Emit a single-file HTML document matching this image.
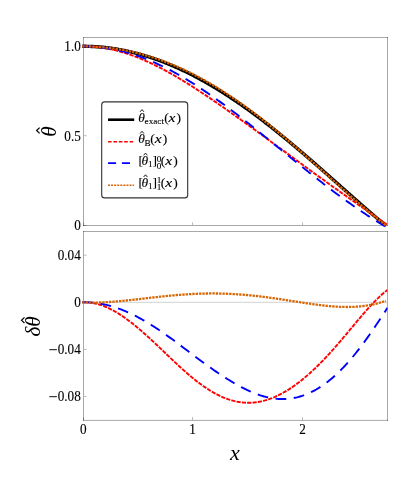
<!DOCTYPE html>
<html><head><meta charset="utf-8">
<style>
html,body{margin:0;padding:0;background:#fff;}
body{width:407px;height:499px;overflow:hidden;}
svg{display:block;}
text{font-family:"Liberation Serif",serif;fill:#000;}
.tk{font-size:13.2px;stroke:#000;stroke-width:0.12px;}
.it{font-style:italic;}
.lg{font-size:13.5px;stroke:#000;stroke-width:0.12px;}
.sub{font-size:9.2px;stroke-width:0.12px;}
.hat{font-size:10px;}
</style></head><body>
<div style="will-change:transform;width:407px;height:499px"><svg width="407" height="499" viewBox="0 0 407 499">
<rect width="407" height="499" fill="#fff"/>
<defs>
<clipPath id="ct"><rect x="80" y="38" width="307.6" height="189"/></clipPath>
<clipPath id="cb"><rect x="80" y="232" width="307.6" height="188.5"/></clipPath>
</defs>
<!-- zero axis bottom panel -->
<line x1="84" y1="302.3" x2="387" y2="302.3" stroke="#d2d2d2" stroke-width="1"/>
<!-- frames -->
<g fill="none" stroke="#000" stroke-opacity="0.34" stroke-width="1">
<line x1="83" y1="37.5" x2="388" y2="37.5"/><line x1="83" y1="225.5" x2="388" y2="225.5"/>
<line x1="83.5" y1="37" x2="83.5" y2="226"/><line x1="387.5" y1="37" x2="387.5" y2="226"/>
<line x1="83" y1="231.5" x2="388" y2="231.5"/><line x1="83" y1="420.4" x2="388" y2="420.4"/>
<line x1="83.5" y1="231" x2="83.5" y2="421"/><line x1="387.5" y1="231" x2="387.5" y2="421"/>
</g>
<!-- ticks -->
<g stroke="#000" stroke-opacity="0.27" stroke-width="1">
<line x1="84" y1="135.7" x2="86.6" y2="135.7"/>
<line x1="84" y1="46.3" x2="86.6" y2="46.3"/>
<line x1="83" y1="225.5" x2="86.6" y2="225.5"/>
<line x1="83.5" y1="225" x2="83.5" y2="222.4"/>
<line x1="192.5" y1="225" x2="192.5" y2="222.4"/>
<line x1="302.5" y1="225" x2="302.5" y2="222.4"/>
<line x1="84" y1="255.2" x2="86.6" y2="255.2"/>
<line x1="84" y1="302.3" x2="86.6" y2="302.3"/>
<line x1="84" y1="349.4" x2="86.6" y2="349.4"/>
<line x1="84" y1="396.4" x2="86.6" y2="396.4"/>
<line x1="83.5" y1="420" x2="83.5" y2="417.2"/>
<line x1="192.5" y1="420" x2="192.5" y2="417.2"/>
<line x1="302.5" y1="420" x2="302.5" y2="417.2"/>
</g>
<!-- curves top -->
<g fill="none" clip-path="url(#ct)">
<path d="M82.20 46.30 L83.00 46.30 L84.01 46.30 L85.03 46.31 L86.04 46.32 L87.05 46.34 L88.06 46.36 L89.08 46.39 L90.09 46.42 L91.10 46.46 L92.11 46.51 L93.13 46.55 L94.14 46.61 L95.15 46.66 L96.17 46.73 L97.18 46.80 L98.19 46.87 L99.20 46.95 L100.22 47.03 L101.23 47.12 L102.24 47.21 L103.25 47.31 L104.27 47.42 L105.28 47.52 L106.29 47.64 L107.31 47.76 L108.32 47.88 L109.33 48.01 L110.34 48.14 L111.36 48.28 L112.37 48.43 L113.38 48.57 L114.39 48.73 L115.41 48.89 L116.42 49.05 L117.43 49.22 L118.45 49.39 L119.46 49.57 L120.47 49.76 L121.48 49.94 L122.50 50.14 L123.51 50.34 L124.52 50.54 L125.53 50.75 L126.55 50.96 L127.56 51.18 L128.57 51.40 L129.59 51.63 L130.60 51.87 L131.61 52.10 L132.62 52.35 L133.64 52.60 L134.65 52.85 L135.66 53.11 L136.67 53.37 L137.69 53.64 L138.70 53.91 L139.71 54.19 L140.73 54.47 L141.74 54.76 L142.75 55.05 L143.76 55.34 L144.78 55.65 L145.79 55.95 L146.80 56.26 L147.82 56.58 L148.83 56.90 L149.84 57.23 L150.85 57.56 L151.87 57.89 L152.88 58.23 L153.89 58.58 L154.90 58.92 L155.92 59.28 L156.93 59.64 L157.94 60.00 L158.96 60.37 L159.97 60.74 L160.98 61.12 L161.99 61.50 L163.01 61.89 L164.02 62.28 L165.03 62.68 L166.04 63.08 L167.06 63.48 L168.07 63.89 L169.08 64.31 L170.10 64.73 L171.11 65.15 L172.12 65.58 L173.13 66.01 L174.15 66.45 L175.16 66.89 L176.17 67.34 L177.18 67.79 L178.20 68.25 L179.21 68.71 L180.22 69.17 L181.24 69.64 L182.25 70.12 L183.26 70.59 L184.27 71.08 L185.29 71.56 L186.30 72.05 L187.31 72.55 L188.32 73.05 L189.34 73.55 L190.35 74.06 L191.36 74.58 L192.38 75.09 L193.39 75.61 L194.40 76.14 L195.41 76.67 L196.43 77.20 L197.44 77.74 L198.45 78.29 L199.46 78.83 L200.48 79.38 L201.49 79.94 L202.50 80.50 L203.52 81.06 L204.53 81.63 L205.54 82.20 L206.55 82.78 L207.57 83.36 L208.58 83.94 L209.59 84.53 L210.60 85.12 L211.62 85.72 L212.63 86.32 L213.64 86.92 L214.66 87.53 L215.67 88.15 L216.68 88.76 L217.69 89.38 L218.71 90.01 L219.72 90.63 L220.73 91.26 L221.74 91.90 L222.76 92.54 L223.77 93.18 L224.78 93.83 L225.80 94.48 L226.81 95.13 L227.82 95.79 L228.83 96.45 L229.85 97.12 L230.86 97.79 L231.87 98.46 L232.88 99.14 L233.90 99.82 L234.91 100.50 L235.92 101.19 L236.94 101.88 L237.95 102.57 L238.96 103.27 L239.97 103.97 L240.99 104.67 L242.00 105.38 L243.01 106.09 L244.02 106.81 L245.04 107.53 L246.05 108.25 L247.06 108.97 L248.08 109.70 L249.09 110.43 L250.10 111.17 L251.11 111.90 L252.13 112.64 L253.14 113.39 L254.15 114.13 L255.17 114.88 L256.18 115.64 L257.19 116.39 L258.20 117.15 L259.22 117.92 L260.23 118.68 L261.24 119.45 L262.25 120.22 L263.27 121.00 L264.28 121.77 L265.29 122.55 L266.31 123.34 L267.32 124.12 L268.33 124.91 L269.34 125.70 L270.36 126.49 L271.37 127.29 L272.38 128.09 L273.39 128.89 L274.41 129.70 L275.42 130.50 L276.43 131.31 L277.45 132.12 L278.46 132.94 L279.47 133.76 L280.48 134.58 L281.50 135.40 L282.51 136.22 L283.52 137.05 L284.53 137.88 L285.55 138.71 L286.56 139.54 L287.57 140.38 L288.59 141.22 L289.60 142.06 L290.61 142.90 L291.62 143.74 L292.64 144.59 L293.65 145.44 L294.66 146.29 L295.67 147.14 L296.69 147.99 L297.70 148.85 L298.71 149.71 L299.73 150.57 L300.74 151.43 L301.75 152.29 L302.76 153.16 L303.78 154.02 L304.79 154.89 L305.80 155.76 L306.81 156.63 L307.83 157.50 L308.84 158.38 L309.85 159.25 L310.87 160.13 L311.88 161.01 L312.89 161.89 L313.90 162.77 L314.92 163.65 L315.93 164.54 L316.94 165.42 L317.95 166.31 L318.97 167.20 L319.98 168.08 L320.99 168.97 L322.01 169.86 L323.02 170.75 L324.03 171.65 L325.04 172.54 L326.06 173.43 L327.07 174.33 L328.08 175.22 L329.09 176.12 L330.11 177.01 L331.12 177.91 L332.13 178.81 L333.15 179.70 L334.16 180.60 L335.17 181.50 L336.18 182.40 L337.20 183.30 L338.21 184.20 L339.22 185.10 L340.23 186.00 L341.25 186.90 L342.26 187.80 L343.27 188.70 L344.29 189.59 L345.30 190.49 L346.31 191.39 L347.32 192.29 L348.34 193.19 L349.35 194.09 L350.36 194.99 L351.37 195.88 L352.39 196.78 L353.40 197.67 L354.41 198.57 L355.43 199.46 L356.44 200.36 L357.45 201.25 L358.46 202.14 L359.48 203.03 L360.49 203.92 L361.50 204.81 L362.52 205.69 L363.53 206.58 L364.54 207.46 L365.55 208.35 L366.57 209.23 L367.58 210.11 L368.59 210.98 L369.60 211.86 L370.62 212.73 L371.63 213.60 L372.64 214.47 L373.66 215.34 L374.67 216.20 L375.68 217.06 L376.69 217.92 L377.71 218.78 L378.72 219.63 L379.73 220.48 L380.74 221.33 L381.76 222.17 L382.77 223.01 L383.78 223.85 L384.80 224.68 L385.81 225.51" stroke="#000" stroke-width="3.4"/>
<path d="M82.20 46.30 L83.00 46.30 L84.02 46.30 L85.04 46.31 L86.06 46.32 L87.07 46.35 L88.09 46.38 L89.11 46.42 L90.13 46.47 L91.15 46.53 L92.17 46.60 L93.18 46.67 L94.20 46.76 L95.22 46.85 L96.24 46.95 L97.26 47.06 L98.28 47.17 L99.29 47.30 L100.31 47.43 L101.33 47.57 L102.35 47.72 L103.37 47.88 L104.39 48.04 L105.40 48.22 L106.42 48.40 L107.44 48.59 L108.46 48.78 L109.48 48.99 L110.50 49.20 L111.52 49.42 L112.53 49.64 L113.55 49.88 L114.57 50.12 L115.59 50.37 L116.61 50.63 L117.63 50.89 L118.64 51.16 L119.66 51.44 L120.68 51.73 L121.70 52.02 L122.72 52.32 L123.74 52.63 L124.75 52.94 L125.77 53.26 L126.79 53.59 L127.81 53.92 L128.83 54.27 L129.85 54.61 L130.86 54.97 L131.88 55.33 L132.90 55.70 L133.92 56.07 L134.94 56.46 L135.96 56.84 L136.97 57.24 L137.99 57.64 L139.01 58.04 L140.03 58.46 L141.05 58.88 L142.07 59.30 L143.09 59.73 L144.10 60.17 L145.12 60.61 L146.14 61.06 L147.16 61.52 L148.18 61.98 L149.20 62.44 L150.21 62.91 L151.23 63.39 L152.25 63.87 L153.27 64.36 L154.29 64.86 L155.31 65.35 L156.32 65.86 L157.34 66.37 L158.36 66.88 L159.38 67.40 L160.40 67.93 L161.42 68.46 L162.43 68.99 L163.45 69.53 L164.47 70.07 L165.49 70.62 L166.51 71.18 L167.53 71.73 L168.55 72.30 L169.56 72.86 L170.58 73.43 L171.60 74.01 L172.62 74.59 L173.64 75.17 L174.66 75.76 L175.67 76.35 L176.69 76.95 L177.71 77.55 L178.73 78.15 L179.75 78.76 L180.77 79.37 L181.78 79.99 L182.80 80.61 L183.82 81.23 L184.84 81.85 L185.86 82.48 L186.88 83.11 L187.89 83.75 L188.91 84.39 L189.93 85.03 L190.95 85.67 L191.97 86.32 L192.99 86.97 L194.01 87.62 L195.02 88.28 L196.04 88.94 L197.06 89.60 L198.08 90.26 L199.10 90.93 L200.12 91.60 L201.13 92.27 L202.15 92.94 L203.17 93.62 L204.19 94.30 L205.21 94.98 L206.23 95.66 L207.24 96.35 L208.26 97.03 L209.28 97.72 L210.30 98.41 L211.32 99.10 L212.34 99.80 L213.35 100.49 L214.37 101.19 L215.39 101.89 L216.41 102.59 L217.43 103.30 L218.45 104.00 L219.46 104.71 L220.48 105.41 L221.50 106.12 L222.52 106.83 L223.54 107.54 L224.56 108.26 L225.58 108.97 L226.59 109.69 L227.61 110.40 L228.63 111.12 L229.65 111.84 L230.67 112.56 L231.69 113.28 L232.70 114.00 L233.72 114.73 L234.74 115.45 L235.76 116.18 L236.78 116.90 L237.80 117.63 L238.81 118.36 L239.83 119.08 L240.85 119.81 L241.87 120.54 L242.89 121.27 L243.91 122.01 L244.92 122.74 L245.94 123.47 L246.96 124.20 L247.98 124.94 L249.00 125.67 L250.02 126.41 L251.04 127.14 L252.05 127.88 L253.07 128.62 L254.09 129.35 L255.11 130.09 L256.13 130.83 L257.15 131.57 L258.16 132.31 L259.18 133.05 L260.20 133.79 L261.22 134.53 L262.24 135.27 L263.26 136.01 L264.27 136.75 L265.29 137.49 L266.31 138.23 L267.33 138.97 L268.35 139.72 L269.37 140.46 L270.38 141.20 L271.40 141.95 L272.42 142.69 L273.44 143.43 L274.46 144.18 L275.48 144.92 L276.49 145.67 L277.51 146.41 L278.53 147.15 L279.55 147.90 L280.57 148.64 L281.59 149.39 L282.61 150.13 L283.62 150.88 L284.64 151.62 L285.66 152.37 L286.68 153.11 L287.70 153.86 L288.72 154.61 L289.73 155.35 L290.75 156.10 L291.77 156.84 L292.79 157.59 L293.81 158.33 L294.83 159.08 L295.84 159.82 L296.86 160.57 L297.88 161.31 L298.90 162.06 L299.92 162.80 L300.94 163.54 L301.95 164.29 L302.97 165.03 L303.99 165.78 L305.01 166.52 L306.03 167.26 L307.05 168.00 L308.07 168.75 L309.08 169.49 L310.10 170.23 L311.12 170.97 L312.14 171.71 L313.16 172.45 L314.18 173.19 L315.19 173.93 L316.21 174.67 L317.23 175.41 L318.25 176.15 L319.27 176.89 L320.29 177.63 L321.30 178.36 L322.32 179.10 L323.34 179.84 L324.36 180.57 L325.38 181.31 L326.40 182.04 L327.41 182.77 L328.43 183.50 L329.45 184.24 L330.47 184.97 L331.49 185.70 L332.51 186.43 L333.53 187.16 L334.54 187.88 L335.56 188.61 L336.58 189.34 L337.60 190.06 L338.62 190.79 L339.64 191.51 L340.65 192.24 L341.67 192.96 L342.69 193.68 L343.71 194.40 L344.73 195.12 L345.75 195.84 L346.76 196.56 L347.78 197.28 L348.80 198.00 L349.82 198.72 L350.84 199.43 L351.86 200.15 L352.87 200.86 L353.89 201.58 L354.91 202.29 L355.93 203.01 L356.95 203.72 L357.97 204.43 L358.98 205.14 L360.00 205.86 L361.02 206.57 L362.04 207.28 L363.06 207.99 L364.08 208.70 L365.10 209.41 L366.11 210.12 L367.13 210.83 L368.15 211.54 L369.17 212.25 L370.19 212.96 L371.21 213.66 L372.22 214.37 L373.24 215.08 L374.26 215.79 L375.28 216.50 L376.30 217.21 L377.32 217.92 L378.33 218.63 L379.35 219.34 L380.37 220.04 L381.39 220.75 L382.41 221.46 L383.43 222.17 L384.44 222.88 L385.46 223.59 L386.48 224.29 L387.50 225.00" stroke="#ff0000" stroke-width="1.9" stroke-dasharray="4.2 1.15"/>
<path d="M82.20 46.30 L83.00 46.30 L84.02 46.30 L85.04 46.31 L86.06 46.32 L87.07 46.35 L88.09 46.37 L89.11 46.41 L90.13 46.45 L91.15 46.50 L92.17 46.56 L93.18 46.62 L94.20 46.69 L95.22 46.76 L96.24 46.85 L97.26 46.94 L98.28 47.03 L99.29 47.14 L100.31 47.25 L101.33 47.36 L102.35 47.49 L103.37 47.62 L104.39 47.76 L105.40 47.90 L106.42 48.05 L107.44 48.21 L108.46 48.37 L109.48 48.54 L110.50 48.72 L111.52 48.91 L112.53 49.10 L113.55 49.29 L114.57 49.50 L115.59 49.71 L116.61 49.93 L117.63 50.15 L118.64 50.38 L119.66 50.62 L120.68 50.86 L121.70 51.11 L122.72 51.37 L123.74 51.63 L124.75 51.90 L125.77 52.18 L126.79 52.46 L127.81 52.75 L128.83 53.05 L129.85 53.35 L130.86 53.66 L131.88 53.97 L132.90 54.30 L133.92 54.62 L134.94 54.96 L135.96 55.30 L136.97 55.64 L137.99 56.00 L139.01 56.35 L140.03 56.72 L141.05 57.09 L142.07 57.47 L143.09 57.85 L144.10 58.24 L145.12 58.63 L146.14 59.04 L147.16 59.44 L148.18 59.86 L149.20 60.27 L150.21 60.70 L151.23 61.13 L152.25 61.57 L153.27 62.01 L154.29 62.46 L155.31 62.91 L156.32 63.37 L157.34 63.84 L158.36 64.31 L159.38 64.78 L160.40 65.27 L161.42 65.75 L162.43 66.25 L163.45 66.75 L164.47 67.25 L165.49 67.76 L166.51 68.27 L167.53 68.80 L168.55 69.32 L169.56 69.85 L170.58 70.39 L171.60 70.93 L172.62 71.47 L173.64 72.03 L174.66 72.58 L175.67 73.14 L176.69 73.71 L177.71 74.28 L178.73 74.86 L179.75 75.44 L180.77 76.02 L181.78 76.61 L182.80 77.21 L183.82 77.81 L184.84 78.41 L185.86 79.02 L186.88 79.64 L187.89 80.26 L188.91 80.88 L189.93 81.51 L190.95 82.14 L191.97 82.77 L192.99 83.41 L194.01 84.06 L195.02 84.70 L196.04 85.36 L197.06 86.01 L198.08 86.67 L199.10 87.34 L200.12 88.01 L201.13 88.68 L202.15 89.35 L203.17 90.03 L204.19 90.72 L205.21 91.40 L206.23 92.09 L207.24 92.79 L208.26 93.49 L209.28 94.19 L210.30 94.89 L211.32 95.60 L212.34 96.31 L213.35 97.03 L214.37 97.75 L215.39 98.47 L216.41 99.19 L217.43 99.92 L218.45 100.65 L219.46 101.39 L220.48 102.12 L221.50 102.86 L222.52 103.61 L223.54 104.35 L224.56 105.10 L225.58 105.85 L226.59 106.61 L227.61 107.37 L228.63 108.13 L229.65 108.89 L230.67 109.66 L231.69 110.43 L232.70 111.20 L233.72 111.97 L234.74 112.75 L235.76 113.53 L236.78 114.31 L237.80 115.09 L238.81 115.88 L239.83 116.67 L240.85 117.46 L241.87 118.25 L242.89 119.05 L243.91 119.85 L244.92 120.65 L245.94 121.45 L246.96 122.25 L247.98 123.06 L249.00 123.86 L250.02 124.67 L251.04 125.48 L252.05 126.29 L253.07 127.11 L254.09 127.92 L255.11 128.74 L256.13 129.55 L257.15 130.37 L258.16 131.19 L259.18 132.01 L260.20 132.83 L261.22 133.65 L262.24 134.48 L263.26 135.30 L264.27 136.12 L265.29 136.95 L266.31 137.77 L267.33 138.60 L268.35 139.43 L269.37 140.26 L270.38 141.08 L271.40 141.91 L272.42 142.74 L273.44 143.57 L274.46 144.40 L275.48 145.23 L276.49 146.06 L277.51 146.89 L278.53 147.72 L279.55 148.55 L280.57 149.38 L281.59 150.21 L282.61 151.04 L283.62 151.87 L284.64 152.70 L285.66 153.53 L286.68 154.36 L287.70 155.19 L288.72 156.01 L289.73 156.84 L290.75 157.67 L291.77 158.50 L292.79 159.32 L293.81 160.15 L294.83 160.97 L295.84 161.80 L296.86 162.62 L297.88 163.44 L298.90 164.26 L299.92 165.08 L300.94 165.90 L301.95 166.72 L302.97 167.54 L303.99 168.36 L305.01 169.18 L306.03 169.99 L307.05 170.80 L308.07 171.62 L309.08 172.43 L310.10 173.24 L311.12 174.05 L312.14 174.85 L313.16 175.66 L314.18 176.46 L315.19 177.27 L316.21 178.07 L317.23 178.87 L318.25 179.66 L319.27 180.46 L320.29 181.25 L321.30 182.05 L322.32 182.84 L323.34 183.63 L324.36 184.42 L325.38 185.20 L326.40 185.98 L327.41 186.77 L328.43 187.54 L329.45 188.32 L330.47 189.10 L331.49 189.87 L332.51 190.64 L333.53 191.41 L334.54 192.17 L335.56 192.94 L336.58 193.70 L337.60 194.46 L338.62 195.21 L339.64 195.97 L340.65 196.72 L341.67 197.47 L342.69 198.21 L343.71 198.95 L344.73 199.69 L345.75 200.43 L346.76 201.16 L347.78 201.89 L348.80 202.62 L349.82 203.35 L350.84 204.07 L351.86 204.79 L352.87 205.50 L353.89 206.22 L354.91 206.92 L355.93 207.63 L356.95 208.33 L357.97 209.03 L358.98 209.73 L360.00 210.42 L361.02 211.11 L362.04 211.80 L363.06 212.48 L364.08 213.16 L365.10 213.83 L366.11 214.50 L367.13 215.17 L368.15 215.84 L369.17 216.50 L370.19 217.15 L371.21 217.81 L372.22 218.46 L373.24 219.10 L374.26 219.75 L375.28 220.38 L376.30 221.02 L377.32 221.65 L378.33 222.28 L379.35 222.90 L380.37 223.52 L381.39 224.13 L382.41 224.74 L383.43 225.35 L384.44 225.95 L385.46 226.54 L386.48 227.13 L387.50 227.72" stroke="#0000ff" stroke-width="1.9" stroke-dasharray="10.8 7.5"/>
<path d="M82.20 46.30 L83.00 46.30 L84.01 46.31 L85.03 46.33 L86.04 46.34 L87.05 46.37 L88.06 46.39 L89.08 46.43 L90.09 46.46 L91.10 46.50 L92.11 46.55 L93.13 46.59 L94.14 46.65 L95.15 46.70 L96.17 46.76 L97.18 46.83 L98.19 46.90 L99.20 46.97 L100.22 47.05 L101.23 47.14 L102.24 47.22 L103.25 47.32 L104.27 47.41 L105.28 47.51 L106.29 47.62 L107.31 47.73 L108.32 47.84 L109.33 47.96 L110.34 48.09 L111.36 48.21 L112.37 48.35 L113.38 48.48 L114.39 48.62 L115.41 48.77 L116.42 48.92 L117.43 49.08 L118.45 49.24 L119.46 49.40 L120.47 49.57 L121.48 49.75 L122.50 49.92 L123.51 50.11 L124.52 50.30 L125.53 50.49 L126.55 50.69 L127.56 50.89 L128.57 51.10 L129.59 51.31 L130.60 51.52 L131.61 51.74 L132.62 51.97 L133.64 52.20 L134.65 52.44 L135.66 52.68 L136.67 52.92 L137.69 53.17 L138.70 53.43 L139.71 53.69 L140.73 53.95 L141.74 54.22 L142.75 54.49 L143.76 54.77 L144.78 55.06 L145.79 55.34 L146.80 55.64 L147.82 55.94 L148.83 56.24 L149.84 56.55 L150.85 56.86 L151.87 57.18 L152.88 57.50 L153.89 57.83 L154.90 58.16 L155.92 58.49 L156.93 58.84 L157.94 59.18 L158.96 59.53 L159.97 59.89 L160.98 60.25 L161.99 60.62 L163.01 60.99 L164.02 61.36 L165.03 61.74 L166.04 62.13 L167.06 62.52 L168.07 62.91 L169.08 63.31 L170.10 63.72 L171.11 64.13 L172.12 64.54 L173.13 64.96 L174.15 65.38 L175.16 65.81 L176.17 66.24 L177.18 66.68 L178.20 67.13 L179.21 67.57 L180.22 68.03 L181.24 68.48 L182.25 68.95 L183.26 69.41 L184.27 69.88 L185.29 70.36 L186.30 70.84 L187.31 71.33 L188.32 71.82 L189.34 72.31 L190.35 72.81 L191.36 73.32 L192.38 73.83 L193.39 74.34 L194.40 74.86 L195.41 75.38 L196.43 75.91 L197.44 76.44 L198.45 76.98 L199.46 77.52 L200.48 78.07 L201.49 78.62 L202.50 79.17 L203.52 79.73 L204.53 80.30 L205.54 80.87 L206.55 81.44 L207.57 82.02 L208.58 82.60 L209.59 83.19 L210.60 83.78 L211.62 84.37 L212.63 84.97 L213.64 85.58 L214.66 86.19 L215.67 86.80 L216.68 87.42 L217.69 88.04 L218.71 88.67 L219.72 89.30 L220.73 89.93 L221.74 90.57 L222.76 91.21 L223.77 91.86 L224.78 92.51 L225.80 93.17 L226.81 93.83 L227.82 94.49 L228.83 95.16 L229.85 95.84 L230.86 96.51 L231.87 97.19 L232.88 97.88 L233.90 98.57 L234.91 99.26 L235.92 99.95 L236.94 100.66 L237.95 101.36 L238.96 102.07 L239.97 102.78 L240.99 103.50 L242.00 104.22 L243.01 104.94 L244.02 105.67 L245.04 106.40 L246.05 107.13 L247.06 107.87 L248.08 108.61 L249.09 109.36 L250.10 110.11 L251.11 110.86 L252.13 111.62 L253.14 112.38 L254.15 113.14 L255.17 113.91 L256.18 114.68 L257.19 115.45 L258.20 116.23 L259.22 117.01 L260.23 117.79 L261.24 118.58 L262.25 119.37 L263.27 120.16 L264.28 120.96 L265.29 121.76 L266.31 122.56 L267.32 123.37 L268.33 124.18 L269.34 124.99 L270.36 125.80 L271.37 126.62 L272.38 127.44 L273.39 128.27 L274.41 129.09 L275.42 129.92 L276.43 130.75 L277.45 131.59 L278.46 132.42 L279.47 133.26 L280.48 134.11 L281.50 134.95 L282.51 135.80 L283.52 136.65 L284.53 137.50 L285.55 138.36 L286.56 139.21 L287.57 140.07 L288.59 140.93 L289.60 141.80 L290.61 142.66 L291.62 143.53 L292.64 144.40 L293.65 145.28 L294.66 146.15 L295.67 147.03 L296.69 147.90 L297.70 148.78 L298.71 149.67 L299.73 150.55 L300.74 151.43 L301.75 152.32 L302.76 153.21 L303.78 154.10 L304.79 154.99 L305.80 155.88 L306.81 156.78 L307.83 157.67 L308.84 158.57 L309.85 159.47 L310.87 160.37 L311.88 161.27 L312.89 162.17 L313.90 163.07 L314.92 163.98 L315.93 164.88 L316.94 165.79 L317.95 166.69 L318.97 167.60 L319.98 168.51 L320.99 169.41 L322.01 170.32 L323.02 171.23 L324.03 172.14 L325.04 173.05 L326.06 173.96 L327.07 174.87 L328.08 175.78 L329.09 176.69 L330.11 177.60 L331.12 178.51 L332.13 179.42 L333.15 180.33 L334.16 181.24 L335.17 182.15 L336.18 183.06 L337.20 183.97 L338.21 184.87 L339.22 185.78 L340.23 186.69 L341.25 187.59 L342.26 188.50 L343.27 189.40 L344.29 190.30 L345.30 191.20 L346.31 192.11 L347.32 193.00 L348.34 193.90 L349.35 194.80 L350.36 195.69 L351.37 196.59 L352.39 197.48 L353.40 198.37 L354.41 199.25 L355.43 200.14 L356.44 201.02 L357.45 201.90 L358.46 202.78 L359.48 203.66 L360.49 204.54 L361.50 205.41 L362.52 206.28 L363.53 207.14 L364.54 208.01 L365.55 208.87 L366.57 209.73 L367.58 210.58 L368.59 211.43 L369.60 212.28 L370.62 213.13 L371.63 213.97 L372.64 214.80 L373.66 215.64 L374.67 216.47 L375.68 217.29 L376.69 218.12 L377.71 218.93 L378.72 219.74 L379.73 220.55 L380.74 221.36 L381.76 222.15 L382.77 222.95 L383.78 223.73 L384.80 224.51 L385.81 225.29" stroke="#d96400" stroke-width="2.3" stroke-dasharray="2.35 1.0"/>
</g>
<!-- curves bottom -->
<g fill="none" clip-path="url(#cb)">
<path d="M82.20 302.30 L83.00 302.30 L84.02 302.27 L85.04 302.27 L86.06 302.29 L87.07 302.33 L88.09 302.40 L89.11 302.49 L90.13 302.60 L91.15 302.73 L92.17 302.88 L93.18 303.06 L94.20 303.26 L95.22 303.47 L96.24 303.71 L97.26 303.97 L98.28 304.25 L99.29 304.55 L100.31 304.87 L101.33 305.21 L102.35 305.57 L103.37 305.94 L104.39 306.34 L105.40 306.75 L106.42 307.19 L107.44 307.64 L108.46 308.10 L109.48 308.59 L110.50 309.09 L111.52 309.61 L112.53 310.14 L113.55 310.69 L114.57 311.26 L115.59 311.84 L116.61 312.44 L117.63 313.06 L118.64 313.68 L119.66 314.33 L120.68 314.98 L121.70 315.65 L122.72 316.34 L123.74 317.03 L124.75 317.75 L125.77 318.47 L126.79 319.20 L127.81 319.95 L128.83 320.71 L129.85 321.48 L130.86 322.26 L131.88 323.06 L132.90 323.86 L133.92 324.67 L134.94 325.50 L135.96 326.33 L136.97 327.17 L137.99 328.03 L139.01 328.89 L140.03 329.76 L141.05 330.63 L142.07 331.52 L143.09 332.41 L144.10 333.31 L145.12 334.22 L146.14 335.13 L147.16 336.05 L148.18 336.97 L149.20 337.90 L150.21 338.84 L151.23 339.78 L152.25 340.72 L153.27 341.67 L154.29 342.63 L155.31 343.58 L156.32 344.54 L157.34 345.50 L158.36 346.47 L159.38 347.43 L160.40 348.40 L161.42 349.37 L162.43 350.34 L163.45 351.32 L164.47 352.29 L165.49 353.26 L166.51 354.23 L167.53 355.20 L168.55 356.17 L169.56 357.14 L170.58 358.11 L171.60 359.07 L172.62 360.04 L173.64 361.00 L174.66 361.95 L175.67 362.91 L176.69 363.86 L177.71 364.80 L178.73 365.74 L179.75 366.68 L180.77 367.60 L181.78 368.53 L182.80 369.45 L183.82 370.36 L184.84 371.26 L185.86 372.16 L186.88 373.05 L187.89 373.93 L188.91 374.80 L189.93 375.67 L190.95 376.52 L191.97 377.37 L192.99 378.21 L194.01 379.03 L195.02 379.85 L196.04 380.66 L197.06 381.45 L198.08 382.24 L199.10 383.01 L200.12 383.77 L201.13 384.52 L202.15 385.26 L203.17 385.98 L204.19 386.70 L205.21 387.40 L206.23 388.08 L207.24 388.75 L208.26 389.41 L209.28 390.06 L210.30 390.69 L211.32 391.31 L212.34 391.91 L213.35 392.50 L214.37 393.07 L215.39 393.63 L216.41 394.17 L217.43 394.70 L218.45 395.21 L219.46 395.71 L220.48 396.19 L221.50 396.66 L222.52 397.10 L223.54 397.54 L224.56 397.95 L225.58 398.35 L226.59 398.73 L227.61 399.10 L228.63 399.45 L229.65 399.78 L230.67 400.10 L231.69 400.39 L232.70 400.67 L233.72 400.94 L234.74 401.18 L235.76 401.41 L236.78 401.62 L237.80 401.82 L238.81 401.99 L239.83 402.15 L240.85 402.29 L241.87 402.41 L242.89 402.52 L243.91 402.60 L244.92 402.67 L245.94 402.72 L246.96 402.76 L247.98 402.77 L249.00 402.77 L250.02 402.75 L251.04 402.71 L252.05 402.66 L253.07 402.58 L254.09 402.49 L255.11 402.39 L256.13 402.26 L257.15 402.12 L258.16 401.96 L259.18 401.78 L260.20 401.58 L261.22 401.37 L262.24 401.14 L263.26 400.89 L264.27 400.63 L265.29 400.35 L266.31 400.05 L267.33 399.74 L268.35 399.41 L269.37 399.06 L270.38 398.70 L271.40 398.32 L272.42 397.92 L273.44 397.51 L274.46 397.08 L275.48 396.64 L276.49 396.18 L277.51 395.71 L278.53 395.22 L279.55 394.71 L280.57 394.19 L281.59 393.65 L282.61 393.10 L283.62 392.53 L284.64 391.95 L285.66 391.36 L286.68 390.75 L287.70 390.12 L288.72 389.48 L289.73 388.83 L290.75 388.16 L291.77 387.48 L292.79 386.78 L293.81 386.07 L294.83 385.35 L295.84 384.61 L296.86 383.86 L297.88 383.09 L298.90 382.32 L299.92 381.53 L300.94 380.72 L301.95 379.91 L302.97 379.08 L303.99 378.24 L305.01 377.38 L306.03 376.52 L307.05 375.64 L308.07 374.75 L309.08 373.85 L310.10 372.93 L311.12 372.01 L312.14 371.07 L313.16 370.12 L314.18 369.16 L315.19 368.19 L316.21 367.21 L317.23 366.22 L318.25 365.21 L319.27 364.20 L320.29 363.18 L321.30 362.14 L322.32 361.10 L323.34 360.05 L324.36 358.98 L325.38 357.91 L326.40 356.83 L327.41 355.74 L328.43 354.64 L329.45 353.53 L330.47 352.41 L331.49 351.28 L332.51 350.15 L333.53 349.01 L334.54 347.86 L335.56 346.70 L336.58 345.54 L337.60 344.37 L338.62 343.19 L339.64 342.01 L340.65 340.82 L341.67 339.63 L342.69 338.43 L343.71 337.22 L344.73 336.02 L345.75 334.81 L346.76 333.60 L347.78 332.38 L348.80 331.16 L349.82 329.95 L350.84 328.73 L351.86 327.51 L352.87 326.29 L353.89 325.07 L354.91 323.85 L355.93 322.64 L356.95 321.42 L357.97 320.21 L358.98 319.01 L360.00 317.81 L361.02 316.61 L362.04 315.42 L363.06 314.24 L364.08 313.06 L365.10 311.90 L366.11 310.74 L367.13 309.59 L368.15 308.45 L369.17 307.32 L370.19 306.21 L371.21 305.10 L372.22 304.01 L373.24 302.94 L374.26 301.88 L375.28 300.84 L376.30 299.81 L377.32 298.81 L378.33 297.82 L379.35 296.85 L380.37 295.91 L381.39 294.98 L382.41 294.08 L383.43 293.20 L384.44 292.35 L385.46 291.53 L386.48 290.73 L387.50 289.96" stroke="#ff0000" stroke-width="1.9" stroke-dasharray="4.2 1.15"/>
<path d="M82.20 302.30 L83.00 302.30 L84.02 302.29 L85.04 302.29 L86.06 302.30 L87.07 302.33 L88.09 302.36 L89.11 302.41 L90.13 302.47 L91.15 302.54 L92.17 302.62 L93.18 302.71 L94.20 302.81 L95.22 302.93 L96.24 303.05 L97.26 303.19 L98.28 303.34 L99.29 303.49 L100.31 303.66 L101.33 303.85 L102.35 304.04 L103.37 304.24 L104.39 304.45 L105.40 304.68 L106.42 304.91 L107.44 305.16 L108.46 305.42 L109.48 305.68 L110.50 305.96 L111.52 306.25 L112.53 306.55 L113.55 306.86 L114.57 307.18 L115.59 307.51 L116.61 307.85 L117.63 308.20 L118.64 308.57 L119.66 308.94 L120.68 309.32 L121.70 309.71 L122.72 310.11 L123.74 310.52 L124.75 310.94 L125.77 311.37 L126.79 311.81 L127.81 312.26 L128.83 312.72 L129.85 313.19 L130.86 313.66 L131.88 314.15 L132.90 314.64 L133.92 315.15 L134.94 315.66 L135.96 316.18 L136.97 316.71 L137.99 317.25 L139.01 317.79 L140.03 318.35 L141.05 318.91 L142.07 319.48 L143.09 320.06 L144.10 320.64 L145.12 321.23 L146.14 321.83 L147.16 322.44 L148.18 323.06 L149.20 323.68 L150.21 324.31 L151.23 324.94 L152.25 325.59 L153.27 326.23 L154.29 326.89 L155.31 327.55 L156.32 328.22 L157.34 328.89 L158.36 329.57 L159.38 330.26 L160.40 330.95 L161.42 331.64 L162.43 332.34 L163.45 333.05 L164.47 333.76 L165.49 334.47 L166.51 335.19 L167.53 335.91 L168.55 336.64 L169.56 337.37 L170.58 338.11 L171.60 338.85 L172.62 339.59 L173.64 340.34 L174.66 341.08 L175.67 341.83 L176.69 342.59 L177.71 343.34 L178.73 344.10 L179.75 344.86 L180.77 345.63 L181.78 346.39 L182.80 347.16 L183.82 347.92 L184.84 348.69 L185.86 349.46 L186.88 350.23 L187.89 351.00 L188.91 351.77 L189.93 352.54 L190.95 353.31 L191.97 354.08 L192.99 354.84 L194.01 355.61 L195.02 356.38 L196.04 357.14 L197.06 357.91 L198.08 358.67 L199.10 359.43 L200.12 360.18 L201.13 360.94 L202.15 361.69 L203.17 362.44 L204.19 363.19 L205.21 363.93 L206.23 364.67 L207.24 365.41 L208.26 366.14 L209.28 366.87 L210.30 367.59 L211.32 368.31 L212.34 369.03 L213.35 369.74 L214.37 370.45 L215.39 371.15 L216.41 371.85 L217.43 372.54 L218.45 373.23 L219.46 373.92 L220.48 374.59 L221.50 375.26 L222.52 375.93 L223.54 376.59 L224.56 377.25 L225.58 377.90 L226.59 378.54 L227.61 379.18 L228.63 379.81 L229.65 380.43 L230.67 381.05 L231.69 381.66 L232.70 382.27 L233.72 382.86 L234.74 383.46 L235.76 384.04 L236.78 384.62 L237.80 385.19 L238.81 385.75 L239.83 386.31 L240.85 386.85 L241.87 387.39 L242.89 387.92 L243.91 388.44 L244.92 388.95 L245.94 389.45 L246.96 389.95 L247.98 390.43 L249.00 390.90 L250.02 391.36 L251.04 391.81 L252.05 392.24 L253.07 392.67 L254.09 393.08 L255.11 393.49 L256.13 393.88 L257.15 394.25 L258.16 394.62 L259.18 394.97 L260.20 395.31 L261.22 395.63 L262.24 395.94 L263.26 396.24 L264.27 396.53 L265.29 396.79 L266.31 397.05 L267.33 397.29 L268.35 397.52 L269.37 397.73 L270.38 397.92 L271.40 398.10 L272.42 398.27 L273.44 398.42 L274.46 398.55 L275.48 398.67 L276.49 398.77 L277.51 398.86 L278.53 398.93 L279.55 398.98 L280.57 399.02 L281.59 399.04 L282.61 399.05 L283.62 399.03 L284.64 399.01 L285.66 398.96 L286.68 398.90 L287.70 398.82 L288.72 398.72 L289.73 398.61 L290.75 398.48 L291.77 398.33 L292.79 398.17 L293.81 397.99 L294.83 397.79 L295.84 397.57 L296.86 397.34 L297.88 397.08 L298.90 396.81 L299.92 396.52 L300.94 396.22 L301.95 395.90 L302.97 395.55 L303.99 395.20 L305.01 394.82 L306.03 394.42 L307.05 394.01 L308.07 393.58 L309.08 393.13 L310.10 392.66 L311.12 392.18 L312.14 391.67 L313.16 391.15 L314.18 390.61 L315.19 390.05 L316.21 389.48 L317.23 388.88 L318.25 388.27 L319.27 387.64 L320.29 386.99 L321.30 386.32 L322.32 385.64 L323.34 384.94 L324.36 384.22 L325.38 383.48 L326.40 382.72 L327.41 381.94 L328.43 381.15 L329.45 380.34 L330.47 379.51 L331.49 378.66 L332.51 377.80 L333.53 376.91 L334.54 376.01 L335.56 375.09 L336.58 374.15 L337.60 373.20 L338.62 372.23 L339.64 371.23 L340.65 370.22 L341.67 369.20 L342.69 368.15 L343.71 367.09 L344.73 366.01 L345.75 364.91 L346.76 363.79 L347.78 362.66 L348.80 361.51 L349.82 360.34 L350.84 359.16 L351.86 357.96 L352.87 356.74 L353.89 355.51 L354.91 354.26 L355.93 352.99 L356.95 351.71 L357.97 350.41 L358.98 349.10 L360.00 347.77 L361.02 346.43 L362.04 345.07 L363.06 343.71 L364.08 342.32 L365.10 340.93 L366.11 339.52 L367.13 338.10 L368.15 336.66 L369.17 335.22 L370.19 333.76 L371.21 332.29 L372.22 330.82 L373.24 329.33 L374.26 327.84 L375.28 326.33 L376.30 324.82 L377.32 323.30 L378.33 321.77 L379.35 320.24 L380.37 318.70 L381.39 317.15 L382.41 315.60 L383.43 314.05 L384.44 312.49 L385.46 310.94 L386.48 309.37 L387.50 307.81" stroke="#0000ff" stroke-width="1.9" stroke-dasharray="10.8 7.5"/>
<path d="M82.20 302.30 L83.00 302.30 L84.01 302.35 L85.03 302.40 L86.04 302.44 L87.05 302.48 L88.06 302.51 L89.08 302.53 L90.09 302.55 L91.10 302.56 L92.11 302.57 L93.13 302.57 L94.14 302.57 L95.15 302.56 L96.17 302.54 L97.18 302.53 L98.19 302.51 L99.20 302.48 L100.22 302.45 L101.23 302.41 L102.24 302.37 L103.25 302.33 L104.27 302.28 L105.28 302.23 L106.29 302.18 L107.31 302.12 L108.32 302.06 L109.33 301.99 L110.34 301.92 L111.36 301.85 L112.37 301.78 L113.38 301.70 L114.39 301.62 L115.41 301.54 L116.42 301.45 L117.43 301.37 L118.45 301.28 L119.46 301.19 L120.47 301.09 L121.48 301.00 L122.50 300.90 L123.51 300.80 L124.52 300.69 L125.53 300.59 L126.55 300.49 L127.56 300.38 L128.57 300.27 L129.59 300.16 L130.60 300.05 L131.61 299.94 L132.62 299.83 L133.64 299.71 L134.65 299.60 L135.66 299.49 L136.67 299.37 L137.69 299.25 L138.70 299.14 L139.71 299.02 L140.73 298.90 L141.74 298.78 L142.75 298.67 L143.76 298.55 L144.78 298.43 L145.79 298.31 L146.80 298.19 L147.82 298.07 L148.83 297.96 L149.84 297.84 L150.85 297.72 L151.87 297.61 L152.88 297.49 L153.89 297.37 L154.90 297.26 L155.92 297.14 L156.93 297.03 L157.94 296.92 L158.96 296.81 L159.97 296.70 L160.98 296.59 L161.99 296.48 L163.01 296.37 L164.02 296.27 L165.03 296.16 L166.04 296.06 L167.06 295.96 L168.07 295.85 L169.08 295.76 L170.10 295.66 L171.11 295.56 L172.12 295.47 L173.13 295.37 L174.15 295.28 L175.16 295.19 L176.17 295.11 L177.18 295.02 L178.20 294.94 L179.21 294.86 L180.22 294.78 L181.24 294.70 L182.25 294.62 L183.26 294.55 L184.27 294.48 L185.29 294.41 L186.30 294.34 L187.31 294.28 L188.32 294.21 L189.34 294.15 L190.35 294.10 L191.36 294.04 L192.38 293.99 L193.39 293.94 L194.40 293.89 L195.41 293.84 L196.43 293.80 L197.44 293.76 L198.45 293.72 L199.46 293.68 L200.48 293.65 L201.49 293.62 L202.50 293.59 L203.52 293.57 L204.53 293.54 L205.54 293.52 L206.55 293.51 L207.57 293.49 L208.58 293.48 L209.59 293.47 L210.60 293.47 L211.62 293.46 L212.63 293.46 L213.64 293.46 L214.66 293.47 L215.67 293.48 L216.68 293.49 L217.69 293.50 L218.71 293.51 L219.72 293.53 L220.73 293.56 L221.74 293.58 L222.76 293.61 L223.77 293.64 L224.78 293.67 L225.80 293.70 L226.81 293.74 L227.82 293.78 L228.83 293.83 L229.85 293.87 L230.86 293.92 L231.87 293.97 L232.88 294.03 L233.90 294.09 L234.91 294.15 L235.92 294.21 L236.94 294.28 L237.95 294.34 L238.96 294.41 L239.97 294.49 L240.99 294.56 L242.00 294.64 L243.01 294.72 L244.02 294.81 L245.04 294.89 L246.05 294.98 L247.06 295.07 L248.08 295.16 L249.09 295.26 L250.10 295.36 L251.11 295.46 L252.13 295.56 L253.14 295.67 L254.15 295.77 L255.17 295.88 L256.18 296.00 L257.19 296.11 L258.20 296.23 L259.22 296.34 L260.23 296.46 L261.24 296.59 L262.25 296.71 L263.27 296.84 L264.28 296.96 L265.29 297.09 L266.31 297.22 L267.32 297.36 L268.33 297.49 L269.34 297.63 L270.36 297.77 L271.37 297.91 L272.38 298.05 L273.39 298.19 L274.41 298.33 L275.42 298.48 L276.43 298.63 L277.45 298.77 L278.46 298.92 L279.47 299.07 L280.48 299.22 L281.50 299.37 L282.51 299.53 L283.52 299.68 L284.53 299.84 L285.55 299.99 L286.56 300.15 L287.57 300.30 L288.59 300.46 L289.60 300.62 L290.61 300.77 L291.62 300.93 L292.64 301.09 L293.65 301.25 L294.66 301.41 L295.67 301.56 L296.69 301.72 L297.70 301.88 L298.71 302.04 L299.73 302.19 L300.74 302.35 L301.75 302.50 L302.76 302.66 L303.78 302.81 L304.79 302.96 L305.80 303.12 L306.81 303.27 L307.83 303.42 L308.84 303.56 L309.85 303.71 L310.87 303.86 L311.88 304.00 L312.89 304.14 L313.90 304.28 L314.92 304.42 L315.93 304.55 L316.94 304.69 L317.95 304.82 L318.97 304.95 L319.98 305.07 L320.99 305.20 L322.01 305.32 L323.02 305.43 L324.03 305.55 L325.04 305.66 L326.06 305.77 L327.07 305.87 L328.08 305.97 L329.09 306.07 L330.11 306.16 L331.12 306.25 L332.13 306.33 L333.15 306.41 L334.16 306.48 L335.17 306.55 L336.18 306.62 L337.20 306.68 L338.21 306.74 L339.22 306.79 L340.23 306.83 L341.25 306.87 L342.26 306.90 L343.27 306.93 L344.29 306.95 L345.30 306.97 L346.31 306.98 L347.32 306.98 L348.34 306.97 L349.35 306.96 L350.36 306.94 L351.37 306.92 L352.39 306.89 L353.40 306.85 L354.41 306.80 L355.43 306.74 L356.44 306.68 L357.45 306.61 L358.46 306.53 L359.48 306.44 L360.49 306.34 L361.50 306.24 L362.52 306.13 L363.53 306.00 L364.54 305.87 L365.55 305.73 L366.57 305.58 L367.58 305.42 L368.59 305.26 L369.60 305.08 L370.62 304.89 L371.63 304.69 L372.64 304.49 L373.66 304.27 L374.67 304.04 L375.68 303.81 L376.69 303.56 L377.71 303.30 L378.72 303.03 L379.73 302.76 L380.74 302.47 L381.76 302.17 L382.77 301.86 L383.78 301.53 L384.80 301.20 L385.81 300.86" stroke="#d96400" stroke-width="2.3" stroke-dasharray="2.35 1.0"/>
</g>
<!-- tick labels -->
<g class="tk" text-anchor="end">
<text transform="translate(80.8,50.8) scale(1,1.1)">1.0</text>
<text transform="translate(80.8,140.5) scale(1,1.1)">0.5</text>
<text transform="translate(80.8,230.1) scale(1,1.1)">0</text>
<text transform="translate(80.8,259.6) scale(1,1.1)">0.04</text>
<text transform="translate(80.8,306.7) scale(1,1.1)">0</text>
<text transform="translate(80.8,353.9) scale(1,1.1)">0.04</text>
<text transform="translate(80.8,400.9) scale(1,1.1)">0.08</text>
</g>
<g class="tk" text-anchor="middle">
<text transform="translate(83.3,433.9) scale(1,1.1)">0</text>
<text transform="translate(192.6,433.9) scale(1,1.1)">1</text>
<text transform="translate(302.6,433.9) scale(1,1.1)">2</text>
</g>
<g stroke="#000" stroke-width="0.95">
<line x1="49.3" y1="349.7" x2="56.9" y2="349.7"/>
<line x1="49.3" y1="396.7" x2="56.9" y2="396.7"/>
</g>
<!-- axis labels -->
<text class="it" font-size="22" text-anchor="middle" x="235" y="459.8">x</text>
<g transform="translate(56.2,131.5) rotate(-90)">
<text class="it" font-size="21.2" text-anchor="middle" x="0" y="0">θ</text>
<path d="M-1.9 -16.6 L1.0 -19.6 L3.9 -16.6" fill="none" stroke="#000" stroke-width="1.2"/>
</g>
<g transform="translate(40.4,326.4) rotate(-90)">
<text class="it" font-size="21.2" text-anchor="middle" x="0" y="0">δθ</text>
<path d="M3.3 -15.9 L6.15 -18.9 L9.0 -15.9" fill="none" stroke="#000" stroke-width="1.2"/>
</g>
<!-- legend -->
<rect x="101.7" y="101.9" width="86" height="96" rx="3" ry="3" fill="#fff" stroke="#333" stroke-width="1.1"/>
<line x1="108" y1="119.7" x2="134.2" y2="119.7" stroke="#000" stroke-width="2.6"/>
<line x1="108" y1="141.7" x2="134" y2="141.7" stroke="#ff0000" stroke-width="1.35" stroke-dasharray="3.6 1.8"/>
<line x1="108" y1="163" x2="134" y2="163" stroke="#0000ff" stroke-width="1.75" stroke-dasharray="8.1 5.8"/>
<line x1="108" y1="185.3" x2="134" y2="185.3" stroke="#d96400" stroke-width="1.4" stroke-dasharray="2 1.07"/>
<g class="lg">
<!-- row1 -->
<text class="it" x="138.3" y="121.5">θ</text><path d="M140.1 111.8 L142.0 109.6 L143.9 111.8" fill="none" stroke="#000" stroke-width="0.9"/>
<text class="sub" x="144.6" y="123.7">exact</text>
<text x="164.2" y="121.5">(</text><text class="it" transform="translate(168.6,121.5) scale(1.15,1)">x</text><text x="176.6" y="121.5">)</text>
<!-- row2 -->
<text class="it" x="138.3" y="143.2">θ</text><path d="M140.1 133.5 L142.0 131.3 L143.9 133.5" fill="none" stroke="#000" stroke-width="0.9"/>
<text class="sub" x="144.6" y="145.6">B</text>
<text x="150.3" y="143.2">(</text><text class="it" transform="translate(154.7,143.2) scale(1.15,1)">x</text><text x="162.7" y="143.2">)</text>
<!-- row3 -->
<text x="138.4" y="165">[</text><text class="it" x="141.6" y="165">θ</text><path d="M143.6 155.3 L145.5 153.1 L147.4 155.3" fill="none" stroke="#000" stroke-width="0.9"/>
<text class="sub" x="148" y="167.4">1</text><text x="152.6" y="165">]</text>
<text class="sub" x="156.8" y="161.5">0</text><text class="sub" x="156.8" y="168.6">0</text>
<text x="160.8" y="165.0">(</text><text class="it" transform="translate(165.2,165.0) scale(1.15,1)">x</text><text x="173.2" y="165.0">)</text>
<!-- row4 -->
<text x="138.4" y="186.7">[</text><text class="it" x="141.6" y="186.7">θ</text><path d="M143.6 177.0 L145.5 174.8 L147.4 177.0" fill="none" stroke="#000" stroke-width="0.9"/>
<text class="sub" x="148" y="189.1">1</text><text x="152.6" y="186.7">]</text>
<text class="sub" x="156.8" y="183.2">1</text><text class="sub" x="156.8" y="190.3">1</text>
<text x="160.8" y="186.7">(</text><text class="it" transform="translate(165.2,186.7) scale(1.15,1)">x</text><text x="173.2" y="186.7">)</text>
</g>
</svg></div>
</body></html>
